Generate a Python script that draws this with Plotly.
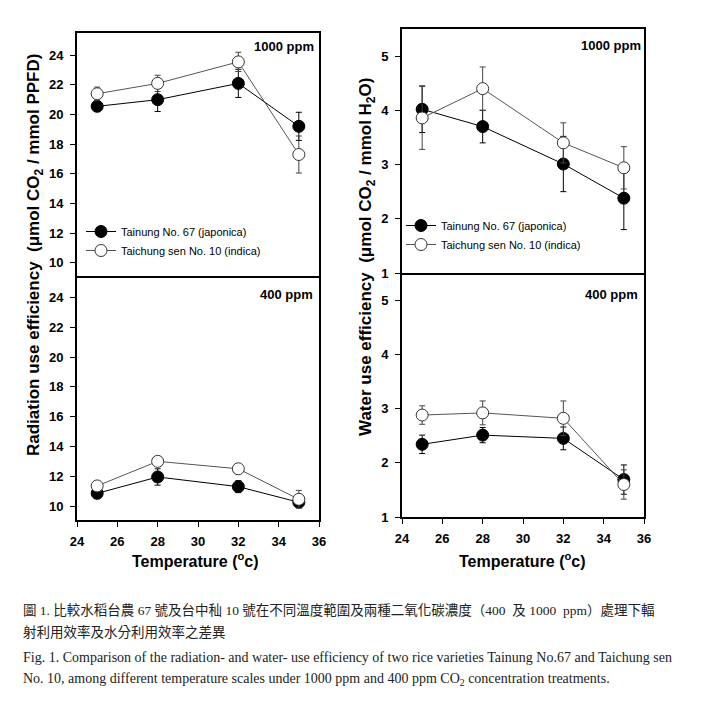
import plotly.graph_objects as go

# page is 708x711; the html body has an 8px margin, so the figure is inset
PAGE_W, PAGE_H = 708, 711
OFF = 8
FW, FH = PAGE_W - 2 * OFF, PAGE_H - 2 * OFF

temps = [25, 28, 32, 35]
x_ticks = [24, 26, 28, 30, 32, 34, 36]
rue_ticks = [10, 12, 14, 16, 18, 20, 22, 24]
wue_ticks = [1, 2, 3, 4, 5]

series_names = ["Tainung No. 67 (japonica)", "Taichung sen No. 10 (indica)"]

rue_1000_t67 = [20.55, 21.0, 22.1, 19.2]
rue_1000_t67_err = [0.35, 0.8, 0.95, 0.95]
rue_1000_tcs10 = [21.4, 22.1, 23.55, 17.3]
rue_1000_tcs10_err = [0.45, 0.55, 0.65, 1.25]

rue_400_t67 = [10.85, 11.95, 11.3, 10.25]
rue_400_t67_err = [0.35, 0.55, 0.4, 0.3]
rue_400_tcs10 = [11.35, 13.0, 12.5, 10.45]
rue_400_tcs10_err = [0.3, 0.25, 0.3, 0.6]

wue_1000_t67 = [4.02, 3.70, 3.01, 2.38]
wue_1000_t67_err = [0.43, 0.30, 0.51, 0.58]
wue_1000_tcs10 = [3.86, 4.40, 3.40, 2.94]
wue_1000_tcs10_err = [0.58, 0.40, 0.37, 0.39]

wue_400_t67 = [2.34, 2.51, 2.45, 1.69]
wue_400_t67_err = [0.17, 0.14, 0.21, 0.27]
wue_400_tcs10 = [2.88, 2.92, 2.82, 1.60]
wue_400_tcs10_err = [0.17, 0.22, 0.32, 0.27]

FONT = "Liberation Sans, Arial, sans-serif"

def px_x(p):
    return (p - OFF) / FW

def px_y(p):
    return 1 - (p - OFF) / FH

fig = go.Figure()

def add_pair(xa, ya, black, black_err, white, white_err, legend=None):
    show = legend is not None
    fig.add_trace(go.Scatter(
        x=temps, y=black, xaxis=xa, yaxis=ya, mode="lines+markers",
        name=series_names[0], showlegend=show, legend=legend or "legend",
        line=dict(color="black", width=1),
        marker=dict(symbol="circle", size=12, color="black", line=dict(color="black", width=1)),
        error_y=dict(type="data", array=black_err, visible=True, color="black", thickness=1, width=3),
    ))
    fig.add_trace(go.Scatter(
        x=temps, y=white, xaxis=xa, yaxis=ya, mode="lines+markers",
        name=series_names[1], showlegend=show, legend=legend or "legend",
        line=dict(color="#555555", width=1),
        marker=dict(symbol="circle", size=12, color="white", line=dict(color="#333333", width=1)),
        error_y=dict(type="data", array=white_err, visible=True, color="#444444", thickness=1, width=3),
    ))

add_pair("x", "y", rue_1000_t67, rue_1000_t67_err, rue_1000_tcs10, rue_1000_tcs10_err, legend="legend")
add_pair("x2", "y2", rue_400_t67, rue_400_t67_err, rue_400_tcs10, rue_400_tcs10_err)
add_pair("x3", "y3", wue_1000_t67, wue_1000_t67_err, wue_1000_tcs10, wue_1000_tcs10_err, legend="legend2")
add_pair("x4", "y4", wue_400_t67, wue_400_t67_err, wue_400_tcs10, wue_400_tcs10_err)

tickfont = dict(family=FONT, size=13, color="black", weight="bold")

def xaxis(domain, anchor, labels):
    d = dict(domain=domain, anchor=anchor, range=[24, 36], tickvals=x_ticks,
             showline=True, linecolor="black", linewidth=2,
             showgrid=False, zeroline=False, tickfont=tickfont)
    if labels:
        # bottom panel: its top edge is drawn by the upper panel's bottom line
        d.update(ticks="outside", ticklen=5, tickwidth=1, tickcolor="black",
                 showticklabels=True, mirror=False, ticklabelstandoff=3)
    else:
        d.update(ticks="", showticklabels=False, mirror=True)
    return d

def yaxis(domain, anchor, rng, tv):
    return dict(domain=domain, anchor=anchor, range=rng, tickvals=tv,
                showline=True, linecolor="black", linewidth=2, mirror=True,
                showgrid=False, zeroline=False, ticks="outside", ticklen=5,
                tickwidth=1, tickcolor="black", tickfont=tickfont,
                ticklabelstandoff=4)

L = [px_x(77), px_x(319)]
R = [px_x(402), px_x(644)]
LT = [px_y(276), px_y(33)]
LB = [px_y(520), px_y(276)]
RT = [px_y(273), px_y(29)]
RB = [px_y(517), px_y(273)]

annotations = []
def ann(text, x, y, size, bold=True, angle=0, xanchor="center", family=FONT, color="black"):
    annotations.append(dict(text=text, x=px_x(x), y=px_y(y), xref="paper", yref="paper",
                            showarrow=False, textangle=angle, xanchor=xanchor, yanchor="middle",
                            font=dict(family=family, size=size, color=color,
                                      weight="bold" if bold else "normal")))

ann("1000 ppm", 284, 47, 13)
ann("400 ppm", 286, 295, 13)
ann("1000 ppm", 611, 46, 13)
ann("400 ppm", 611, 294, 13)

ann("Radiation use efficiency  (\u03bcmol CO<sub>2</sub> / mmol PPFD)", 35, 255, 17, angle=-90)
ann("Water use efficiency  (\u03bcmol CO<sub>2</sub> / mmol H<sub>2</sub>O)", 367, 257, 17, angle=-90)
ann("Temperature (<sup>o</sup>c)", 196, 560, 16)
ann("Temperature (<sup>o</sup>c)", 522, 560, 16)

SERIF = "Liberation Serif, Times New Roman, serif"
CJK = "Liberation Serif, Noto Sans CJK TC, serif"
ann("圖 1. 比較水稻台農 67 號及台中秈 10 號在不同溫度範圍及兩種二氧化碳濃度（400  及 1000  ppm）處理下輻",
    21, 610, 13.5, bold=False, xanchor="left", family=CJK, color="#222222")
ann("射利用效率及水分利用效率之差異", 21, 632, 13.5, bold=False, xanchor="left", family=CJK, color="#222222")
ann("Fig. 1. Comparison of the radiation- and water- use efficiency of two rice varieties Tainung No.67 and Taichung sen",
    21, 657, 14, bold=False, xanchor="left", family=SERIF, color="#222222")
ann("No. 10, among different temperature scales under 1000 ppm and 400 ppm CO<sub>2</sub> concentration treatments.",
    21, 679, 14, bold=False, xanchor="left", family=SERIF, color="#222222")

legend_style = dict(font=dict(family=FONT, size=11, color="black"), bgcolor="rgba(0,0,0,0)",
                    borderwidth=0, xanchor="left", yanchor="top", tracegroupgap=0,
                    xref="paper", yref="paper")

fig.update_layout(
    width=FW, height=FH, margin=dict(l=0, r=0, t=0, b=0, autoexpand=False),
    paper_bgcolor="white", plot_bgcolor="white",
    xaxis=xaxis(L, "y", False), yaxis=yaxis(LT, "x", [9.1, 25.5], rue_ticks),
    xaxis2=xaxis(L, "y2", True), yaxis2=yaxis(LB, "x2", [9.06, 25.45], rue_ticks),
    xaxis3=xaxis(R, "y3", False), yaxis3=yaxis(RT, "x3", [1, 5.5], wue_ticks),
    xaxis4=xaxis(R, "y4", True), yaxis4=yaxis(RB, "x4", [1, 5.5], wue_ticks),
    annotations=annotations,
    legend=dict(x=px_x(81), y=px_y(217), **legend_style),
    legend2=dict(x=px_x(401), y=px_y(211), **legend_style),
    showlegend=True,
)

fig.write_html("out.html")
